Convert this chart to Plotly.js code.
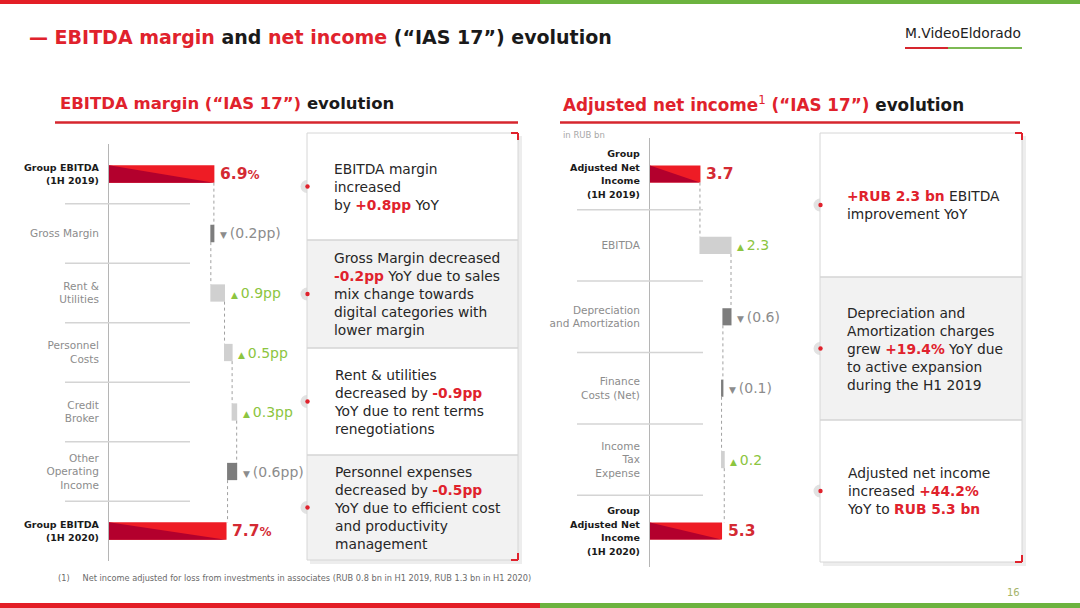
<!DOCTYPE html>
<html>
<head>
<meta charset="utf-8">
<script src="https://cdn.plot.ly/plotly-3.0.1.min.js"></script>
<style>
  html, body { margin: 0; padding: 0; background: #fff; }
  #chart { width: 1080px; height: 608px; }
</style>
</head>
<body>
<div id="chart"></div>
<script>
// ---- data: EBITDA margin bridge (pp) ----
const marginCats = [['Group EBITDA', '(1H 2019)'], ['Gross Margin'], ['Rent &', 'Utilities'], ['Personnel', 'Costs'],
                    ['Credit', 'Broker'], ['Other', 'Operating', 'Income'], ['Group EBITDA', '(1H 2020)']];
const marginValues = [6.9, -0.2, 0.9, 0.5, 0.3, -0.6, 7.7];
const marginMeasure = ['absolute', 'relative', 'relative', 'relative', 'relative', 'relative', 'absolute'];
const marginLabels = ['6.9%', '(0.2pp)', '0.9pp', '0.5pp', '0.3pp', '(0.6pp)', '7.7%'];

// ---- data: adjusted net income bridge (RUB bn) ----
const incomeCats = [['Group', 'Adjusted Net', 'Income', '(1H 2019)'], ['EBITDA'], ['Depreciation', 'and Amortization'],
                    ['Finance', 'Costs (Net)'], ['Income', 'Tax', 'Expense'], ['Group', 'Adjusted Net', 'Income', '(1H 2020)']];
const incomeValues = [3.7, 2.3, -0.6, -0.1, 0.2, 5.3];
const incomeMeasure = ['absolute', 'relative', 'relative', 'relative', 'relative', 'absolute'];
const incomeLabels = ['3.7', '2.3', '(0.6)', '(0.1)', '0.2', '5.3'];

// ---- colours / fonts ----
const FONT = 'DejaVu Sans, sans-serif';
const RED = '#e0222c';
const DARK_RED = '#b3002d';
const GREEN = '#8cc540';
const GREY_TXT = '#8c8c8c';
const W = 1080, H = 608;
const px = x => x / W;
const py = y => 1 - y / H;

const hl = s => `<b><span style="color:${RED}">${s}</span></b>`;

const marginNotes = [
  'EBITDA margin<br>increased<br>by ' + hl('+0.8pp') + ' YoY',
  'Gross Margin decreased<br>' + hl('-0.2pp') + ' YoY due to sales<br>mix change towards<br>digital categories with<br>lower margin',
  'Rent & utilities<br>decreased by ' + hl('-0.9pp') + '<br>YoY due to rent terms<br>renegotiations',
  'Personnel expenses<br>decreased by ' + hl('-0.5pp') + '<br>YoY due to efficient cost<br>and productivity<br>management'
];
const incomeNotes = [
  hl('+RUB 2.3 bn') + ' EBITDA<br>improvement YoY',
  'Depreciation and<br>Amortization charges<br>grew ' + hl('+19.4%') + ' YoY due<br>to active expansion<br>during the H1 2019',
  'Adjusted net income<br>increased ' + hl('+44.2%') + '<br>YoY to ' + hl('RUB 5.3 bn')
];

// ---- helpers ----
function tickText(cats, measure) {
  return cats.map((lines, i) => measure[i] === 'absolute'
    ? lines.map(l => `<span style="color:#1a1a1a;font-size:9.5px"><b>${l}</b></span>`).join('<br>')
    : lines.join('<br>'));
}

function steps(values, measure) {
  let cur = 0;
  return values.map((v, i) => {
    if (measure[i] === 'absolute') { cur = v; return { s: 0, e: v }; }
    const s = cur; cur += v; return { s: s, e: cur };
  });
}

function waterfall(values, measure, xa, ya, width) {
  return {
    type: 'waterfall', orientation: 'h',
    x: values, y: values.map((_, i) => i), measure: measure,
    xaxis: xa, yaxis: ya, width: width,
    connector: { mode: 'between', line: { color: '#a0a0a0', width: 1, dash: 'dot' } },
    increasing: { marker: { color: '#d0d0d0' } },
    decreasing: { marker: { color: '#7d7d7d' } },
    totals: { marker: { color: '#ee1c25' } },
    textinfo: 'none', hoverinfo: 'skip'
  };
}

function valueAnnotations(values, measure, labels, xa, ya) {
  const st = steps(values, measure);
  return values.map((v, i) => {
    let text, color;
    if (measure[i] === 'absolute') {
      text = '<b>' + labels[i].replace('%', '<span style="font-size:12px">%</span>') + '</b>';
      color = '#d42a33';
    } else if (v >= 0) {
      text = '<span style="font-size:9px">▲ </span>' + labels[i];
      color = GREEN;
    } else {
      text = '<span style="font-size:9px">▼ </span>' + labels[i];
      color = GREY_TXT;
    }
    return {
      xref: xa, yref: ya, x: Math.max(st[i].s, st[i].e), y: i,
      xanchor: 'left', yanchor: 'middle', xshift: 4, showarrow: false,
      text: text, font: { family: FONT, size: measure[i] === 'absolute' ? 15.5 : 14, color: color }
    };
  });
}

function darkWedges(values, measure, xa, ya, width) {
  const out = [];
  values.forEach((v, i) => {
    if (measure[i] !== 'absolute') return;
    const t = i - width / 2, b = i + width / 2;
    out.push({ type: 'path', xref: xa, yref: ya, path: `M 0,${t} L 0,${b} L ${v},${b} Z`,
               fillcolor: DARK_RED, line: { width: 0 } });
  });
  return out;
}

function rect(x0, y0, x1, y1, fill, line) {
  return { type: 'rect', xref: 'paper', yref: 'paper', x0: px(x0), x1: px(x1), y0: py(y1), y1: py(y0),
           fillcolor: fill, line: line || { width: 0 } };
}
function seg(x0, y0, x1, y1, color, w) {
  return { type: 'line', xref: 'paper', yref: 'paper', x0: px(x0), x1: px(x1), y0: py(y0), y1: py(y1),
           line: { color: color, width: w } };
}
function circ(cx, cy, r, fill) {
  return { type: 'circle', xref: 'paper', yref: 'paper', x0: px(cx - r), x1: px(cx + r), y0: py(cy + r), y1: py(cy - r),
           fillcolor: fill, line: { width: 0 } };
}

function noteBox(x0, x1, bounds, notes, textX) {
  const shapes = [], anns = [];
  const top = bounds[0], bot = bounds[bounds.length - 1];
  shapes.push(rect(x0 + 3, top + 3, x1 + 4, bot + 4, 'rgba(0,0,0,0.07)'));
  const mids = [];
  for (let i = 0; i < notes.length; i++) mids.push((bounds[i] + bounds[i + 1]) / 2);
  mids.forEach(m => shapes.push(circ(x0, m, 6.5, '#e2e2e2')));
  for (let i = 0; i < notes.length; i++) {
    shapes.push(rect(x0, bounds[i], x1, bounds[i + 1], i % 2 ? '#f2f2f2' : '#ffffff'));
    if (i > 0) shapes.push(seg(x0, bounds[i], x1, bounds[i], '#d4d4d4', 1.5));
    anns.push({ xref: 'paper', yref: 'paper', x: px(textX), y: py(mids[i]), xanchor: 'left', yanchor: 'middle',
                align: 'left', showarrow: false, text: notes[i], font: { family: FONT, size: 13.8, color: '#262626' } });
  }
  shapes.push(rect(x0, top, x1, bot, 'rgba(0,0,0,0)', { color: '#d6d6d6', width: 1 }));
  mids.forEach(m => shapes.push(circ(x0 + 0.5, m, 2.2, RED)));
  shapes.push(seg(x1 - 7, top, x1, top, RED, 2), seg(x1, top, x1, top + 7, RED, 2));
  shapes.push(seg(x1 - 7, bot, x1, bot, RED, 2), seg(x1, bot - 7, x1, bot, RED, 2));
  return { shapes, anns };
}

function rowSeparators(n, ya, xl, xr) {
  const out = [];
  for (let i = 0; i < n - 1; i++) {
    out.push({ type: 'line', xref: 'paper', yref: ya, x0: px(xl), x1: px(xr), y0: i + 0.5, y1: i + 0.5,
               line: { color: '#d4d4d4', width: 1.5 } });
  }
  return out;
}

// ---- assemble ----
const wL = 0.29, wR = 0.24;
const traces = [
  waterfall(marginValues, marginMeasure, 'x', 'y', wL),
  waterfall(incomeValues, incomeMeasure, 'x2', 'y2', wR)
];

const boxL = noteBox(307, 518, [133, 240, 348, 455, 560], marginNotes, 332);
const boxR = noteBox(820, 1022, [133, 277, 420, 562], incomeNotes, 845);

const shapes = [
  seg(0, 2, 540, 2, '#e31e26', 4), seg(540, 2, 1080, 2, '#6cb33f', 4),
  seg(0, 605.5, 540, 605.5, '#e31e26', 5), seg(540, 605.5, 1080, 605.5, '#6cb33f', 5),
  seg(905, 48, 948, 48, '#d6262e', 2), seg(948, 48, 1022, 48, '#7db954', 2),
  seg(55, 122.5, 518, 122.5, '#d6262e', 2.5), seg(560, 122.5, 1020, 122.5, '#d6262e', 2.5),
  ...rowSeparators(marginValues.length, 'y', 65, 190),
  ...rowSeparators(incomeValues.length, 'y2', 577, 703),
  ...darkWedges(marginValues, marginMeasure, 'x', 'y', wL),
  ...darkWedges(incomeValues, incomeMeasure, 'x2', 'y2', wR),
  ...boxL.shapes, ...boxR.shapes
];

const annotations = [
  { xref: 'paper', yref: 'paper', x: px(27), y: py(37), xanchor: 'left', yanchor: 'middle', showarrow: false,
    text: `<b><span style="color:${RED}">— EBITDA margin</span> and <span style="color:${RED}">net income</span> (“IAS 17”) evolution</b>`,
    font: { family: FONT, size: 19, color: '#1a1a1a' } },
  { xref: 'paper', yref: 'paper', x: px(903), y: py(33), xanchor: 'left', yanchor: 'middle', showarrow: false,
    text: 'M.VideoEldorado', font: { family: FONT, size: 13.8, color: '#222' } },
  { xref: 'paper', yref: 'paper', x: px(58), y: py(104), xanchor: 'left', yanchor: 'middle', showarrow: false,
    text: `<b><span style="color:${RED}">EBITDA margin (“IAS 17”)</span> evolution</b>`,
    font: { family: FONT, size: 16.5, color: '#1a1a1a' } },
  { xref: 'paper', yref: 'paper', x: px(561), y: py(104), xanchor: 'left', yanchor: 'middle', showarrow: false,
    text: `<b><span style="color:${RED}">Adjusted net income<sup><span style="font-weight:normal">1</span></sup> (“IAS 17”)</span> evolution</b>`,
    font: { family: FONT, size: 16.8, color: '#1a1a1a' } },
  { xref: 'paper', yref: 'paper', x: px(561), y: py(135), xanchor: 'left', yanchor: 'middle', showarrow: false,
    text: 'in RUB bn', font: { family: FONT, size: 8.5, color: '#a8a8a8' } },
  { xref: 'paper', yref: 'paper', x: px(56), y: py(578), xanchor: 'left', yanchor: 'middle', showarrow: false,
    text: '(1)     Net income adjusted for loss from investments in associates (RUB 0.8 bn in H1 2019, RUB 1.3 bn in H1 2020)',
    font: { family: FONT, size: 8.2, color: '#6a6a6a' } },
  { xref: 'paper', yref: 'paper', x: px(1022), y: py(592), xanchor: 'right', yanchor: 'middle', showarrow: false,
    text: '16', font: { family: FONT, size: 10, color: '#a4b46a' } },
  ...valueAnnotations(marginValues, marginMeasure, marginLabels, 'x', 'y'),
  ...valueAnnotations(incomeValues, incomeMeasure, incomeLabels, 'x2', 'y2'),
  ...boxL.anns, ...boxR.anns
];

const yCommon = {
  autorange: false, showgrid: false, zeroline: false, showline: true, linecolor: '#b5b5b5', linewidth: 1,
  ticks: '', ticklabelstandoff: 7, tickfont: { family: FONT, size: 10.5, color: GREY_TXT }, fixedrange: true
};

const layout = {
  width: W, height: H,
  margin: { l: 0, r: 0, t: 0, b: 0 },
  paper_bgcolor: '#fff', plot_bgcolor: 'rgba(0,0,0,0)',
  showlegend: false,
  xaxis: { domain: [px(109), px(299)], range: [0, 12.5], visible: false, fixedrange: true, anchor: 'y' },
  yaxis: Object.assign({}, yCommon, {
    domain: [py(560.75), py(144.25)], range: [marginValues.length - 0.5, -0.5], anchor: 'x',
    tickvals: marginValues.map((_, i) => i), ticktext: tickText(marginCats, marginMeasure)
  }),
  xaxis2: { domain: [px(650), px(800)], range: [0, 150 / 13.5], visible: false, fixedrange: true, anchor: 'y2' },
  yaxis2: Object.assign({}, yCommon, {
    domain: [py(566.7), py(138.3)], range: [incomeValues.length - 0.5, -0.5], anchor: 'x2',
    tickvals: incomeValues.map((_, i) => i), ticktext: tickText(incomeCats, incomeMeasure)
  }),
  shapes: shapes,
  annotations: annotations
};

Plotly.newPlot('chart', traces, layout, { displayModeBar: false, staticPlot: true });
</script>
</body>
</html>
